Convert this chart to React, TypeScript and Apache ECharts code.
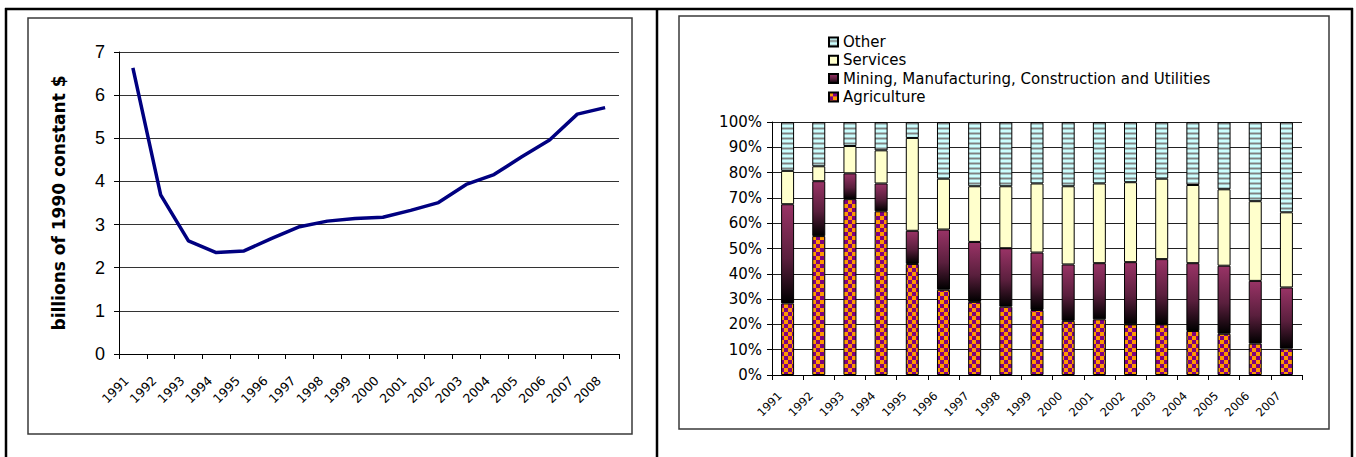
import React, { useEffect, useRef } from 'react';
import * as echarts from 'echarts';

const gdpYears = ['1991', '1992', '1993', '1994', '1995', '1996', '1997', '1998', '1999', '2000', '2001', '2002', '2003', '2004', '2005', '2006', '2007', '2008'];
const gdpValues = [6.63, 3.69, 2.62, 2.35, 2.39, 2.68, 2.95, 3.08, 3.14, 3.17, 3.33, 3.51, 3.93, 4.16, 4.57, 4.96, 5.56, 5.71];
const gdpAxisTitle = 'billions of 1990 constant $';

const shareYears = ['1991', '1992', '1993', '1994', '1995', '1996', '1997', '1998', '1999', '2000', '2001', '2002', '2003', '2004', '2005', '2006', '2007'];
const agriculture = [28.3, 54.9, 69.5, 64.7, 43.9, 33.7, 28.9, 27.0, 25.7, 21.4, 22.0, 20.0, 20.0, 17.4, 16.3, 12.4, 10.4];
const mining = [39.2, 21.7, 10.2, 11.0, 13.1, 23.8, 23.7, 23.1, 22.7, 22.3, 22.2, 24.6, 25.8, 26.8, 26.9, 24.8, 24.2];
const services = [13.2, 5.9, 10.8, 13.1, 36.7, 20.1, 22.0, 24.5, 27.3, 30.9, 31.5, 31.6, 31.8, 30.9, 30.2, 31.5, 29.7];
const other = [19.3, 17.5, 9.5, 11.2, 6.3, 22.4, 25.4, 25.4, 24.3, 25.4, 24.3, 23.8, 22.4, 24.9, 26.6, 31.3, 35.7];
const seriesNames = ['Agriculture', 'Mining, Manufacturing, Construction and Utilities', 'Services', 'Other'];
const legendOrder = ['Other', 'Services', 'Mining, Manufacturing, Construction and Utilities', 'Agriculture'];

const ARIAL = 'Arial, "Liberation Sans", sans-serif';
const WIDE = '"DejaVu Sans", Arial, sans-serif';

function makePattern(w: number, h: number, draw: (ctx: CanvasRenderingContext2D) => void) {
  const c = document.createElement('canvas');
  c.width = w;
  c.height = h;
  const ctx = c.getContext('2d')!;
  draw(ctx);
  return { image: c.toDataURL(), repeat: 'repeat', imageWidth: w, imageHeight: h } as any;
}

export default function App() {
  const ref = useRef<HTMLDivElement>(null);
  useEffect(() => {
    if (!ref.current) return;
    const chart = echarts.init(ref.current, null, { renderer: 'svg' });

    const checker = makePattern(8, 8, (ctx) => {
      ctx.fillStyle = '#800080';
      ctx.fillRect(0, 0, 8, 8);
      ctx.fillStyle = '#FF9900';
      ctx.fillRect(0, 0, 4, 4);
      ctx.fillRect(4, 4, 4, 4);
    });
    const stripes = makePattern(4, 5, (ctx) => {
      const rows = ['#CCFFFF', '#CCFFFF', '#A6C4C4', '#808080', '#A6C4C4'];
      rows.forEach((col, i) => {
        ctx.fillStyle = col;
        ctx.fillRect(0, i, 4, 1);
      });
    });
    const miningGrad = new echarts.graphic.LinearGradient(0, 0, 0, 1, [
      { offset: 0, color: '#993366' },
      { offset: 0.55, color: '#5a1f3d' },
      { offset: 1, color: '#000000' },
    ]);

    const fills = [checker, miningGrad, '#FFFFCC', stripes];
    const dataSets = [agriculture, mining, services, other];

    const barSeries = seriesNames.map((name, i) => ({
      name,
      type: 'bar',
      stack: 'share',
      xAxisIndex: 1,
      yAxisIndex: 1,
      barWidth: 13,
      data: dataSets[i],
      itemStyle: { color: fills[i], borderColor: '#000', borderWidth: 1 },
    }));

    chart.setOption({
      animation: false,
      backgroundColor: '#fff',
      textStyle: { fontFamily: ARIAL },
      legend: {
        orient: 'vertical',
        left: 823,
        top: 29,
        data: legendOrder,
        itemWidth: 9,
        itemHeight: 9,
        itemGap: 2.3,
        icon: 'rect',
        textStyle: { fontSize: 15, color: '#000', fontFamily: WIDE, lineHeight: 16 },
        selectedMode: false,
      },
      grid: [
        { left: 119, top: 52, width: 500, height: 302 },
        { left: 772, top: 122, width: 530, height: 253 },
      ],
      xAxis: [
        {
          type: 'category',
          gridIndex: 0,
          data: gdpYears,
          boundaryGap: true,
          axisLine: { lineStyle: { color: '#000', width: 1 } },
          axisTick: { show: true, interval: 0, length: 5, lineStyle: { color: '#000' } },
          axisLabel: { color: '#000', fontFamily: WIDE, rotate: 45, interval: 0, fontSize: 12.5, margin: 18, padding: [0, 9, 0, 0] },
        },
        {
          type: 'category',
          gridIndex: 1,
          data: shareYears,
          boundaryGap: true,
          axisLine: { lineStyle: { color: '#000', width: 1 } },
          axisTick: { show: true, interval: 0, length: 5, lineStyle: { color: '#000' } },
          axisLabel: { color: '#000', fontFamily: WIDE, rotate: 45, interval: 0, fontSize: 11.5, margin: 11, padding: [0, 11, 0, 0] },
        },
      ],
      yAxis: [
        {
          type: 'value',
          gridIndex: 0,
          min: 0,
          max: 7,
          interval: 1,
          name: gdpAxisTitle,
          nameLocation: 'middle',
          nameRotate: 90,
          nameGap: 52,
          nameTextStyle: { fontSize: 17, fontWeight: 'bold', color: '#000', fontFamily: WIDE },
          axisLine: { show: true, lineStyle: { color: '#000', width: 1 } },
          axisTick: { show: true, length: 5, lineStyle: { color: '#000' } },
          axisLabel: { color: '#000', fontFamily: ARIAL, fontSize: 18, margin: 14 },
          splitLine: { show: true, lineStyle: { color: '#333', width: 1 } },
        },
        {
          type: 'value',
          gridIndex: 1,
          min: 0,
          max: 100,
          interval: 10,
          axisLine: { show: true, lineStyle: { color: '#000', width: 1 } },
          axisTick: { show: true, length: 5, lineStyle: { color: '#000' } },
          axisLabel: { color: '#000', fontFamily: WIDE, fontSize: 15, margin: 10, formatter: '{value}%' },
          splitLine: { show: true, lineStyle: { color: '#222', width: 1 } },
        },
      ],
      series: [
        {
          name: 'GDP',
          type: 'line',
          xAxisIndex: 0,
          yAxisIndex: 0,
          data: gdpValues,
          showSymbol: false,
          symbol: 'none',
          lineStyle: { color: '#000080', width: 3.5 },
          itemStyle: { color: '#000080' },
        },
        ...barSeries,
      ],
      graphic: [
        { type: 'line', shape: { x1: 5, y1: 9, x2: 1353, y2: 9 }, style: { stroke: '#000', lineWidth: 2.5 } },
        { type: 'line', shape: { x1: 6, y1: 8, x2: 6, y2: 457 }, style: { stroke: '#000', lineWidth: 2.5 } },
        { type: 'line', shape: { x1: 657, y1: 8, x2: 657, y2: 457 }, style: { stroke: '#000', lineWidth: 2.5 } },
        { type: 'line', shape: { x1: 1352, y1: 8, x2: 1352, y2: 457 }, style: { stroke: '#000', lineWidth: 2.5 } },
        { type: 'rect', shape: { x: 28, y: 18, width: 604, height: 416 }, style: { stroke: '#3a3a3a', lineWidth: 1.5, fill: 'none' } },
        { type: 'rect', shape: { x: 679, y: 16, width: 650, height: 413 }, style: { stroke: '#3a3a3a', lineWidth: 1.5, fill: 'none' } },
      ],
    });
    return () => chart.dispose();
  }, []);
  return <div ref={ref} style={{ position: 'absolute', left: 0, top: 0, width: 1356, height: 457 }} />;
}
